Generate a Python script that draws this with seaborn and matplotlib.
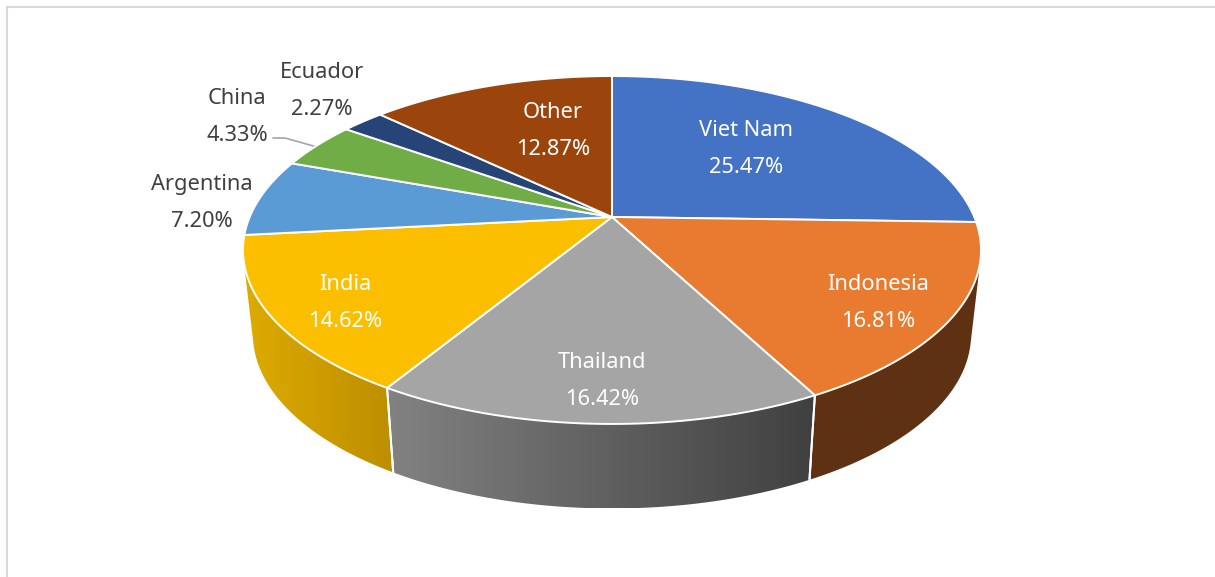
import numpy as np
import matplotlib
matplotlib.use("Agg")
import matplotlib.pyplot as plt
from matplotlib.colors import to_rgb
from matplotlib.patches import PathPatch
from matplotlib.path import Path
import seaborn as sns

# ---- data ----
countries = ["Viet Nam", "Indonesia", "Thailand", "India", "Argentina", "China", "Ecuador", "Other"]
shares = [25.47, 16.81, 16.42, 14.62, 7.20, 4.33, 2.27, 12.87]

# ---- style ----
top_colors = ["#4472C4", "#E97B30", "#A5A5A5", "#FBBF00", "#5B9BD5", "#70AD47", "#264478", "#9B450D"]
wall_from = ["#26407A", "#5F3113", "#828282", "#DDAB00", "#3A6A9A", "#44702A", "#16294A", "#5F3113"]
wall_to = ["#26407A", "#5F3113", "#404040", "#BD8E00", "#3A6A9A", "#44702A", "#16294A", "#5F3113"]
label_colors = ["white", "white", "white", "white", "#404040", "#404040", "#404040", "white"]
label_xy = [(746, 149), (878, 303), (602, 381), (345, 303), (202, 203), (237, 117), (322, 91), (553, 131)]

sns.set_theme(style="white")
plt.rcParams["font.family"] = ["Noto Sans", "DejaVu Sans"]

# Perspective of the disc, in pixels of the figure
CX, CY, A, B, K = 612.0, 217.0, 362.3, 167.7, 0.1897
DEPTH, SHRINK = 84.5, 0.973


def top_pt(t):
    x, y = np.cos(t), np.sin(t)
    d = 1 + K * y
    return CX + A * x / d, CY - B * y / d


def bottom_pt(t):
    X, Y = top_pt(t)
    return CX + SHRINK * (X - CX), Y + DEPTH


def faces_viewer(t, eps=1e-4):
    """True where the wall's vertical ruling lies outside the rim, so it can be seen."""
    x0, y0 = top_pt(t - eps)
    x1, y1 = top_pt(t + eps)
    X, Y = top_pt(t)
    bx, by = bottom_pt(t)
    return (x1 - x0) * (by - Y) - (y1 - y0) * (bx - X) > 0


fig = plt.figure(figsize=(12.15, 5.77), dpi=100, facecolor="white")
ax = fig.add_axes([0, 0, 1, 1])

palette = sns.color_palette(top_colors)
wedges, _ = ax.pie(shares, colors=palette, startangle=90, counterclock=False,
                   wedgeprops=dict(edgecolor="white", linewidth=1.4, zorder=3))

for i, w in enumerate(wedges):
    t = np.radians(np.linspace(w.theta1, w.theta2, 300))
    # top face: project the pie's own wedge
    X, Y = top_pt(t)
    verts = np.column_stack([np.r_[CX, X, CX], np.r_[CY, Y, CY]])
    w._path = Path(verts, closed=True)
    w.set_joinstyle("round")
    # side wall: horizontal gradient clipped to the visible wall outline
    tf = t[faces_viewer(t)]
    if tf.size < 2:
        continue
    fX, fY = top_pt(tf)
    bX, bY = bottom_pt(tf)
    outline = np.column_stack([np.r_[fX, bX[::-1]], np.r_[fY, bY[::-1]]])
    c0, c1 = np.array(to_rgb(wall_from[i])), np.array(to_rgb(wall_to[i]))
    grad = np.linspace(c0, c1, 256)[None, :, :]
    x0, x1 = outline[:, 0].min(), outline[:, 0].max()
    y0, y1 = outline[:, 1].min(), outline[:, 1].max()
    im = ax.imshow(grad, extent=(x0, x1, y1, y0), aspect="auto", interpolation="bilinear", zorder=1)
    clip = PathPatch(Path(outline, closed=True), transform=ax.transData, facecolor="none", edgecolor="none")
    ax.add_patch(clip)
    im.set_clip_path(clip)
    # separators between neighbouring walls
    for tt in (t[0], t[-1]):
        if faces_viewer(tt):
            tx, ty = top_pt(tt)
            ux, uy = bottom_pt(tt)
            ax.plot([tx, ux], [ty, uy], color="white", lw=1.4, zorder=2, solid_capstyle="butt")

# leader line for China
ax.plot([273, 285, 317], [138, 138, 147], color="#A6A6A6", lw=1.2, zorder=2)

for name, v, (x, y), c in zip(countries, shares, label_xy, label_colors):
    ax.text(x, y, f"{name}\n{v:.2f}%", color=c, fontsize=15.7, ha="center", va="center",
            linespacing=1.96, zorder=5)

ax.set_xlim(0, 1215)
ax.set_ylim(577, 0)
ax.set_aspect("auto")
ax.axis("off")

# chart frame, visible on the left and top
ax.plot([6.8, 6.8, 1215], [577, 6.8, 6.8], color="#D9D9D9", lw=1.5, zorder=0, solid_joinstyle="miter")

fig.savefig("out.png", dpi=100, facecolor="white")
